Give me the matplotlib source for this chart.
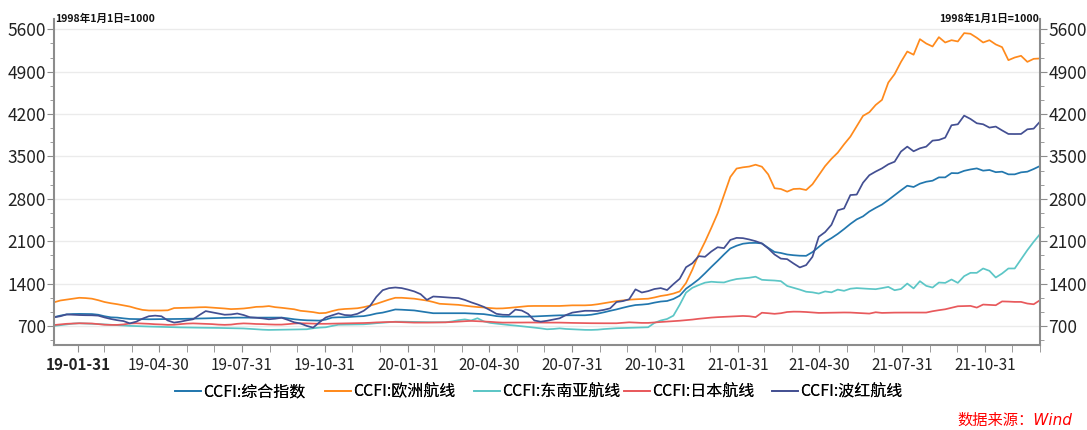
import pandas as pd
import numpy as np
import matplotlib
matplotlib.use("Agg")
import matplotlib.pyplot as plt
import matplotlib.dates as mdates
from matplotlib.ticker import MultipleLocator, FixedLocator

plt.rcParams['font.family'] = ['Noto Sans CJK SC', 'DejaVu Sans']

# weekly CCFI readings, every Friday 2019-01-04 .. 2021-12-31
dates = pd.date_range('2019-01-04', '2021-12-31', freq='W-FRI')

ccfi_total = [
    845, 870, 890, 897, 899, 898, 896, 885, 860, 842, 838, 825, 815, 813, 812, 810, 811, 812, 813, 814,
    816, 818, 820, 822, 825, 828, 830, 833, 835, 837, 837, 837, 837, 837, 837, 838, 838, 825, 810, 800,
    793, 790, 788, 805, 838, 843, 843, 850, 857, 862, 880, 905, 920, 945, 972, 968, 962, 956, 940, 925,
    910, 910, 910, 910, 910, 910, 905, 900, 895, 880, 862, 854, 854, 854, 854, 854, 857, 862, 866, 871,
    875, 876, 876, 876, 876, 885, 903, 925, 950, 973, 1000, 1025, 1045, 1052, 1062, 1085, 1103, 1112, 1145, 1200,
    1315, 1390, 1470, 1570, 1675, 1775, 1880, 1979, 2025, 2058, 2070, 2072, 2063, 1990, 1922, 1905, 1880, 1868, 1860, 1858,
    1920, 2005, 2090, 2150, 2220, 2300, 2385, 2460, 2510, 2590, 2650, 2705, 2780, 2860, 2940, 3016, 2995, 3050, 3082, 3099,
    3154, 3154, 3225, 3222, 3262, 3285, 3302, 3265, 3276, 3240, 3248, 3204, 3204, 3237, 3248, 3292, 3342,
]
ccfi_europe = [
    1090, 1120, 1135, 1150, 1165, 1160, 1150, 1125, 1095, 1075, 1059, 1040, 1020, 990, 965, 955, 955, 955, 958, 995,
    997, 1000, 1003, 1008, 1010, 1003, 995, 988, 978, 982, 988, 1000, 1015, 1018, 1028, 1010, 1000, 988, 975, 950,
    940, 928, 910, 915, 945, 970, 980, 985, 992, 1010, 1035, 1065, 1100, 1135, 1165, 1165, 1158, 1150, 1135, 1119,
    1095, 1066, 1060, 1055, 1048, 1035, 1022, 1012, 1005, 995, 988, 990, 998, 1008, 1018, 1028, 1030, 1030, 1029, 1030,
    1030, 1035, 1040, 1040, 1040, 1045, 1058, 1075, 1092, 1110, 1122, 1133, 1140, 1145, 1150, 1170, 1195, 1211, 1235, 1270,
    1410, 1630, 1880, 2090, 2320, 2560, 2860, 3160, 3300, 3320, 3333, 3363, 3330, 3203, 2975, 2962, 2918, 2962, 2967, 2945,
    3040, 3190, 3340, 3460, 3562, 3700, 3827, 4000, 4170, 4230, 4350, 4434, 4720, 4860, 5060, 5233, 5180, 5437, 5365, 5316,
    5470, 5382, 5420, 5399, 5537, 5526, 5460, 5382, 5420, 5350, 5305, 5090, 5134, 5162, 5062, 5112, 5118,
]
ccfi_seasia = [
    700, 712, 725, 738, 744, 740, 735, 731, 725, 718, 712, 706, 701, 697, 694, 690, 687, 684, 680, 678,
    676, 674, 672, 671, 670, 668, 667, 665, 664, 662, 658, 652, 645, 638, 634, 636, 638, 640, 643, 645,
    645, 662, 672, 678, 700, 720, 722, 724, 725, 727, 735, 745, 753, 762, 770, 770, 768, 765, 763, 762,
    761, 761, 761, 775, 795, 808, 790, 827, 775, 750, 738, 725, 715, 706, 695, 684, 672, 660, 645, 650,
    660, 650, 645, 640, 635, 634, 638, 648, 655, 662, 665, 668, 672, 675, 678, 750, 790, 815, 870, 1050,
    1250, 1330, 1375, 1415, 1430, 1422, 1418, 1450, 1475, 1485, 1496, 1513, 1462, 1455, 1450, 1440, 1360, 1330, 1300, 1265,
    1255, 1235, 1270, 1255, 1300, 1280, 1315, 1325, 1318, 1312, 1307, 1325, 1345, 1290, 1310, 1400, 1320, 1439, 1362, 1334,
    1417, 1411, 1467, 1411, 1522, 1577, 1577, 1649, 1610, 1500, 1566, 1649, 1649, 1800, 1952, 2090, 2217,
]
ccfi_japan = [
    715, 725, 735, 740, 744, 742, 740, 730, 720, 717, 717, 725, 740, 744, 740, 735, 728, 724, 718, 720,
    730, 738, 742, 738, 735, 730, 722, 718, 722, 735, 742, 738, 732, 730, 725, 722, 722, 730, 740, 744,
    742, 738, 735, 735, 738, 740, 742, 744, 745, 748, 752, 758, 762, 765, 766, 762, 758, 755, 755, 755,
    757, 758, 760, 765, 772, 778, 783, 778, 772, 768, 760, 755, 755, 755, 756, 757, 756, 755, 755, 755,
    755, 752, 750, 748, 746, 745, 744, 744, 744, 744, 752, 760, 755, 750, 750, 758, 765, 772, 780, 786,
    795, 805, 818, 828, 838, 845, 850, 855, 860, 865, 860, 845, 918, 910, 900, 910, 930, 936, 935, 930,
    922, 915, 917, 918, 920, 922, 921, 915, 910, 904, 926, 915, 918, 920, 921, 921, 921, 921, 921, 943,
    960, 975, 1000, 1025, 1028, 1031, 1003, 1053, 1048, 1042, 1105, 1102, 1097, 1097, 1070, 1058, 1125,
]
ccfi_redsea = [
    843, 860, 890, 885, 880, 877, 876, 870, 840, 815, 795, 780, 742, 770, 820, 860, 870, 860, 790, 755,
    770, 792, 810, 880, 945, 925, 905, 885, 890, 905, 880, 843, 835, 825, 810, 820, 835, 800, 760, 740,
    700, 672, 760, 840, 875, 908, 880, 875, 900, 950, 1030, 1180, 1290, 1324, 1335, 1325, 1300, 1270, 1225, 1130,
    1186, 1180, 1172, 1165, 1160, 1130, 1090, 1055, 1015, 960, 900, 885, 882, 970, 955, 900, 790, 770, 785, 805,
    826, 880, 920, 935, 950, 950, 947, 965, 991, 1095, 1110, 1140, 1304, 1252, 1275, 1310, 1325, 1293, 1390, 1480,
    1670, 1735, 1853, 1842, 1930, 2000, 1985, 2120, 2155, 2150, 2128, 2100, 2062, 1980, 1880, 1812, 1803, 1732, 1666, 1705,
    1842, 2173, 2250, 2370, 2610, 2640, 2862, 2870, 3066, 3190, 3250, 3303, 3370, 3413, 3580, 3662, 3585, 3634, 3662, 3761,
    3772, 3810, 4015, 4031, 4174, 4119, 4048, 4031, 3976, 3993, 3930, 3871, 3870, 3871, 3948, 3959, 4075,
]

labels = ['CCFI:综合指数', 'CCFI:欧洲航线', 'CCFI:东南亚航线', 'CCFI:日本航线', 'CCFI:波红航线']
series = [ccfi_total, ccfi_europe, ccfi_seasia, ccfi_japan, ccfi_redsea]
colors = ['#2277ae', '#ff8a1c', '#5cc6c6', '#e8595c', '#434f92']

fig = plt.figure(figsize=(10.87, 4.30), dpi=100)
ax = fig.add_axes([54 / 1087, 1 - 345 / 430, (1040 - 54) / 1087, (345 - 19) / 430])

lines = []
for vals, lab, col in zip(series, labels, colors):
    ln, = ax.plot(dates, vals, color=col, lw=1.25, label=lab)
    lines.append(ln)

ax.set_xlim(pd.Timestamp('2019-01-04'), pd.Timestamp('2021-12-31'))
ax.set_ylim(385, 5770)

spine_col = '#8c8c8c'
ax.yaxis.set_major_locator(FixedLocator([700, 1400, 2100, 2800, 3500, 4200, 4900, 5600]))
ax.yaxis.set_minor_locator(MultipleLocator(700 / 3))
ax.grid(axis='y', which='major', color='#ebebeb', lw=1)
ax.set_axisbelow(True)

month_ends = pd.date_range('2019-01-31', '2021-12-31', freq='ME')
quarter_ends = [d for d in month_ends if d.month in (1, 4, 7, 10)]
ax.xaxis.set_major_locator(FixedLocator(mdates.date2num(quarter_ends)))
ax.xaxis.set_minor_locator(FixedLocator(mdates.date2num(month_ends)))
ax.xaxis.set_major_formatter(mdates.DateFormatter('%y-%m-%d'))

ax.spines['top'].set_visible(False)
for s in ['left', 'right', 'bottom']:
    ax.spines[s].set_color(spine_col)
    ax.spines[s].set_linewidth(1.5)

ax.tick_params(axis='y', which='major', length=5, color=spine_col, labelsize=12.5,
               left=True, right=True, labelleft=True, labelright=True, pad=1, labelcolor='#222222')
ax.tick_params(axis='y', which='minor', length=3, color=spine_col, left=True, right=True)
ax.tick_params(axis='x', which='both', length=5, color=spine_col, labelsize=11, pad=4, labelcolor='#222222')
fig.canvas.draw()
ax.get_xticklabels()[0].set_fontweight('bold')

ax.text(0.001, 1.0, '1998年1月1日=1000', transform=ax.transAxes, fontsize=7.6,
        fontweight='bold', ha='left', va='center', color='#111111')
ax.text(0.999, 1.0, '1998年1月1日=1000', transform=ax.transAxes, fontsize=7.6,
        fontweight='bold', ha='right', va='center', color='#111111')

# legend entries sit in equal-width columns
leg_x = [175, 325, 474, 624, 772]
for ln, lab, x0 in zip(lines, labels, leg_x):
    leg = fig.legend([ln], [lab], loc='center left', bbox_to_anchor=(x0 / 1087, 1 - 392 / 430),
                     frameon=False, fontsize=11.5, handlelength=1.6, handletextpad=0.15,
                     borderpad=0, borderaxespad=0)
    fig.add_artist(leg)

fig.text(1072 / 1087, 1 - 420 / 430, '数据来源：Wind', color='#ff0000', fontsize=11,
         style='italic', family=['DejaVu Sans', 'Noto Sans CJK SC'], ha='right', va='center')

fig.savefig('out.png', dpi=100)
